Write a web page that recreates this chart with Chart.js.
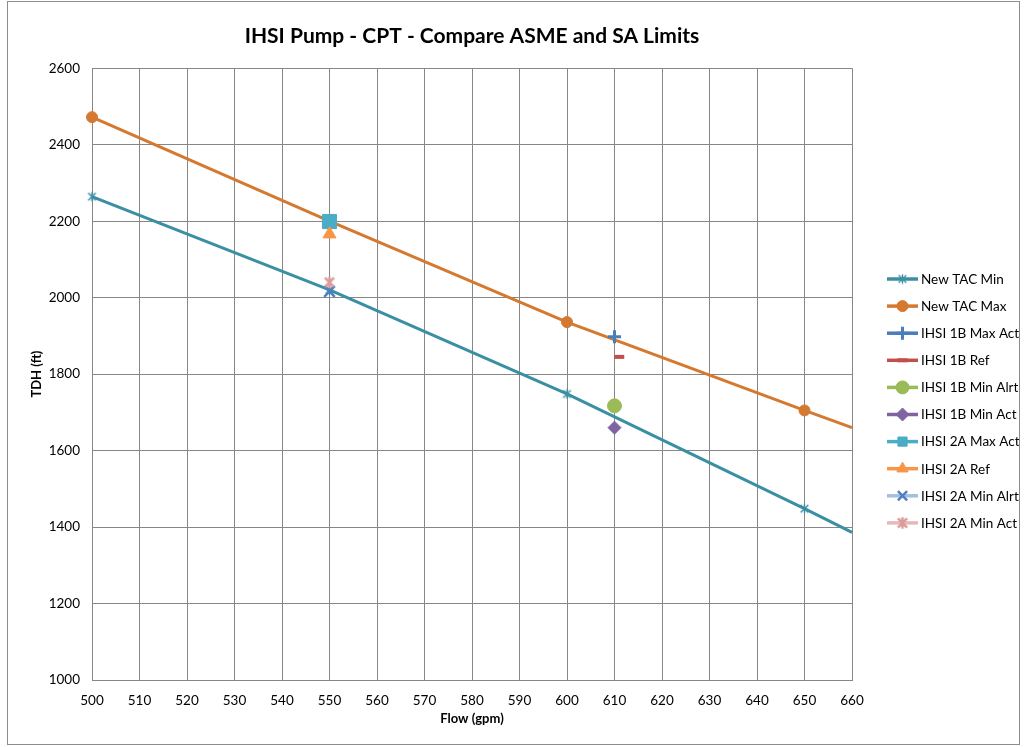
<!DOCTYPE html>
<html>
<head>
<meta charset="utf-8">
<title>IHSI Pump - CPT - Compare ASME and SA Limits</title>
<script src="https://cdn.jsdelivr.net/npm/chart.js@4/dist/chart.umd.min.js"></script>
<style>
  html, body { margin: 0; padding: 0; background: #ffffff; }
  #wrap { position: relative; width: 1026px; height: 747px; }
  #frame { position: absolute; left: 7px; top: 1px; width: 1011px; height: 742px;
           border: 1px solid #8c8c8c; pointer-events: none; }
</style>
</head>
<body>
<div id="wrap">
  <canvas id="chart" width="1026" height="747"></canvas>
  <div id="frame"></div>
</div>
<script>
// Pump curves (flow in gpm, total developed head in ft)
const tacFlow = [500, 550, 600, 650, 660];
const tacMinTdh = [2264, 2020, 1748, 1448, 1386];
const tacMaxTdh = [2472, 2200, 1936, 1705, 1660];

// Single test points
const ihsi1bFlow = 610;
const ihsi1bRefFlow = 611;
const ihsi1bMaxAct = 1898;
const ihsi1bRef = 1845;
const ihsi1bMinAlrt = 1717;
const ihsi1bMinAct = 1660;

const ihsi2aFlow = 550;
const ihsi2aMaxAct = 2199;
const ihsi2aRef = 2166;
const ihsi2aMinAlrt = 2016;
const ihsi2aMinAct = 2040;

// Axis settings
const flowMin = 500, flowMax = 660, flowStep = 10;
const tdhMin = 1000, tdhMax = 2600, tdhStep = 200;

const FONT = 'Lato, "Open Sans", "Liberation Sans", sans-serif';
const GRID = '#878787';

// Six-spoke asterisk marker
function asterisk(size, color, width) {
  const c = document.createElement('canvas');
  c.width = size; c.height = size;
  const g = c.getContext('2d');
  g.strokeStyle = color;
  g.lineWidth = width;
  const h = size / 2, r = h - width / 2, d = r * 0.8;
  g.beginPath();
  g.moveTo(h, h - r); g.lineTo(h, h + r);
  g.moveTo(h - d, h - d); g.lineTo(h + d, h + d);
  g.moveTo(h - d, h + d); g.lineTo(h + d, h - d);
  g.stroke();
  return c;
}

const pts = (xs, ys) => xs.map((x, i) => ({ x: x, y: ys[i] }));

const datasets = [
  { label: 'New TAC Min', data: pts(tacFlow, tacMinTdh),
    borderColor: '#3A8FA3', borderWidth: 3, pointStyle: asterisk(11, '#3A8FA3', 1.4),
    pointRadius: [5, 5, 5, 5, 0], pointBackgroundColor: '#3A8FA3', pointBorderColor: '#3A8FA3', pointBorderWidth: 1 },
  { label: 'New TAC Max', data: pts(tacFlow, tacMaxTdh),
    borderColor: '#D4792F', borderWidth: 3, pointStyle: 'circle',
    pointRadius: [5.5, 5.5, 5.5, 5.5, 0], pointBackgroundColor: '#D4792F', pointBorderColor: '#D4792F', pointBorderWidth: 1 },
  { label: 'IHSI 1B Max Act', data: [{ x: ihsi1bFlow, y: ihsi1bMaxAct }],
    borderColor: '#4A7EBB', borderWidth: 3, pointStyle: 'cross',
    pointRadius: 6.5, pointBackgroundColor: '#4A7EBB', pointBorderColor: '#4A7EBB', pointBorderWidth: 3 },
  { label: 'IHSI 1B Ref', data: [{ x: ihsi1bRefFlow, y: ihsi1bRef }],
    borderColor: '#C0504D', borderWidth: 3, pointStyle: 'line',
    pointRadius: 5, pointBackgroundColor: '#C0504D', pointBorderColor: '#C0504D', pointBorderWidth: 4 },
  { label: 'IHSI 1B Min Alrt', data: [{ x: ihsi1bFlow, y: ihsi1bMinAlrt }],
    borderColor: '#9BBB59', borderWidth: 3, pointStyle: 'circle',
    pointRadius: 7, pointBackgroundColor: '#9BBB59', pointBorderColor: '#9BBB59', pointBorderWidth: 1 },
  { label: 'IHSI 1B Min Act', data: [{ x: ihsi1bFlow, y: ihsi1bMinAct }],
    borderColor: '#8064A2', borderWidth: 3, pointStyle: 'rectRot',
    pointRadius: 6.5, pointBackgroundColor: '#8064A2', pointBorderColor: '#8064A2', pointBorderWidth: 1 },
  { label: 'IHSI 2A Max Act', data: [{ x: ihsi2aFlow, y: ihsi2aMaxAct }],
    borderColor: '#4BACC6', borderWidth: 3, pointStyle: 'rect',
    pointRadius: 10, pointBackgroundColor: '#4BACC6', pointBorderColor: '#4BACC6', pointBorderWidth: 1 },
  { label: 'IHSI 2A Ref', data: [{ x: ihsi2aFlow, y: ihsi2aRef }],
    borderColor: '#F79646', borderWidth: 3, pointStyle: 'triangle',
    pointRadius: 7.5, pointBackgroundColor: '#F79646', pointBorderColor: '#F79646', pointBorderWidth: 1 },
  { label: 'IHSI 2A Min Alrt', data: [{ x: ihsi2aFlow, y: ihsi2aMinAlrt }],
    borderColor: '#A7BFDE', borderWidth: 3, pointStyle: 'crossRot',
    pointRadius: 7.5, pointBackgroundColor: '#4F7FC0', pointBorderColor: '#4F7FC0', pointBorderWidth: 2.5 },
  { label: 'IHSI 2A Min Act', data: [{ x: ihsi2aFlow, y: ihsi2aMinAct }],
    borderColor: '#E6B9B8', borderWidth: 3, pointStyle: asterisk(14, '#DA9B9A', 2.5),
    pointRadius: 7, pointBackgroundColor: '#DA9B9A', pointBorderColor: '#DA9B9A', pointBorderWidth: 1 }
];

// later series are painted on top of earlier ones; markers may overhang the plot edge
datasets.forEach((ds, i) => {
  ds.order = datasets.length - i;
  ds.showLine = true;
  ds.fill = false;
  ds.tension = 0;
  ds.clip = false;
  ds.pointHoverRadius = ds.pointRadius;
});

// Legend on the right: a line sample with the series marker, then the name
const sideLegend = {
  id: 'sideLegend',
  afterDraw(chart) {
    const ctx = chart.ctx;
    const lx0 = 887, lx1 = 918, mx = 902.5, tx = 921, y0 = 279, dy = 27.1;
    chart.data.datasets.forEach((ds, i) => {
      const y = y0 + i * dy;
      ctx.save();
      ctx.strokeStyle = ds.borderColor;
      ctx.lineWidth = 3.5;
      ctx.beginPath();
      ctx.moveTo(lx0, y);
      ctx.lineTo(lx1, y);
      ctx.stroke();
      const r = Array.isArray(ds.pointRadius) ? ds.pointRadius[0] : ds.pointRadius;
      if (Chart.helpers && Chart.helpers.drawPoint) {
        ctx.fillStyle = ds.pointBackgroundColor;
        ctx.strokeStyle = ds.pointBorderColor;
        ctx.lineWidth = ds.pointBorderWidth;
        Chart.helpers.drawPoint(ctx, {
          pointStyle: ds.pointStyle, rotation: 0,
          radius: Math.min(r, 6.5), borderWidth: ds.pointBorderWidth
        }, mx, y);
      }
      ctx.fillStyle = '#000000';
      ctx.font = '13.5px ' + FONT;
      ctx.textAlign = 'left';
      ctx.textBaseline = 'middle';
      ctx.fillText(ds.label, tx, y + 0.5);
      ctx.restore();
    });
  }
};

const plainNumber = (v) => String(v);

new Chart(document.getElementById('chart'), {
  type: 'scatter',
  data: { datasets: datasets },
  plugins: [sideLegend],
  options: {
    responsive: false,
    animation: false,
    events: [],
    layout: { padding: { left: 0, right: 174, top: 0, bottom: 0 } },
    plugins: {
      legend: { display: false },
      tooltip: { enabled: false },
      title: {
        display: true,
        fullSize: false,
        text: 'IHSI Pump - CPT - Compare ASME and SA Limits',
        color: '#000000',
        font: { family: FONT, size: 21, weight: 'bold' },
        padding: { top: 24, bottom: 19 }
      }
    },
    scales: {
      x: {
        type: 'linear',
        min: flowMin, max: flowMax,
        ticks: { stepSize: flowStep, padding: 13, color: '#000000',
                 font: { family: FONT, size: 13.5 }, callback: plainNumber },
        grid: { color: GRID, lineWidth: 1, drawTicks: false },
        border: { color: GRID, width: 1 },
        title: { display: true, text: 'Flow (gpm)', color: '#000000',
                 font: { family: FONT, size: 13, weight: 'bold' }, padding: { top: 0, bottom: 20 } },
        afterFit(scale) { scale.height = 67; }
      },
      y: {
        type: 'linear',
        min: tdhMin, max: tdhMax,
        ticks: { stepSize: tdhStep, padding: 12, color: '#000000',
                 font: { family: FONT, size: 13.5 }, callback: plainNumber },
        grid: { color: GRID, lineWidth: 1, drawTicks: false },
        border: { color: GRID, width: 1 },
        title: { display: true, text: 'TDH (ft)', color: '#000000',
                 font: { family: FONT, size: 13, weight: 'bold' }, padding: { top: 29, bottom: 0 } },
        afterFit(scale) { scale.width = 92; }
      }
    }
  }
});
</script>
</body>
</html>
